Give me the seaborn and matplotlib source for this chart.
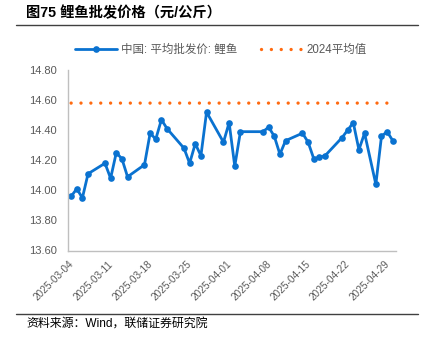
import matplotlib
matplotlib.use("Agg")
import matplotlib.pyplot as plt
import pandas as pd
import seaborn as sns
from matplotlib.lines import Line2D

# Trading days and carp wholesale price (yuan/kg)
trade_dates = [
    "2025-03-04", "2025-03-05", "2025-03-06", "2025-03-07",
    "2025-03-10", "2025-03-11", "2025-03-12", "2025-03-13", "2025-03-14",
    "2025-03-17", "2025-03-18", "2025-03-19", "2025-03-20", "2025-03-21",
    "2025-03-24", "2025-03-25", "2025-03-26", "2025-03-27", "2025-03-28",
    "2025-03-31", "2025-04-01", "2025-04-02", "2025-04-03",
    "2025-04-07", "2025-04-08", "2025-04-09", "2025-04-10", "2025-04-11",
    "2025-04-14", "2025-04-15", "2025-04-16", "2025-04-17", "2025-04-18",
    "2025-04-21", "2025-04-22", "2025-04-23", "2025-04-24", "2025-04-25",
    "2025-04-27", "2025-04-28", "2025-04-29", "2025-04-30",
]
carp_price = [
    13.96, 14.01, 13.95, 14.11,
    14.18, 14.08, 14.25, 14.21, 14.09,
    14.17, 14.38, 14.34, 14.47, 14.41,
    14.28, 14.18, 14.31, 14.23, 14.52,
    14.32, 14.45, 14.16, 14.39,
    14.39, 14.42, 14.36, 14.24, 14.33,
    14.38, 14.32, 14.21, 14.22, 14.23,
    14.35, 14.40, 14.45, 14.27, 14.38,
    14.04, 14.36, 14.39, 14.33,
]
avg_2024 = [
    14.58, 14.58, 14.58, 14.58,
    14.58, 14.58, 14.58, 14.58, 14.58,
    14.58, 14.58, 14.58, 14.58, 14.58,
    14.58, 14.58, 14.58, 14.58, 14.58,
    14.58, 14.58, 14.58, 14.58,
    14.58, 14.58, 14.58, 14.58, 14.58,
    14.58, 14.58, 14.58, 14.58, 14.58,
    14.58, 14.58, 14.58, 14.58, 14.58,
    14.58, 14.58, 14.58, 14.57,
]
tick_dates = [
    "2025-03-04", "2025-03-11", "2025-03-18", "2025-03-25", "2025-04-01",
    "2025-04-08", "2025-04-15", "2025-04-22", "2025-04-29",
]
y_ticks = [13.60, 13.80, 14.00, 14.20, 14.40, 14.60, 14.80]

series_label = "中国: 平均批发价: 鲤鱼"
avg_label = "2024平均值"
title = "图75 鲤鱼批发价格（元/公斤）"
source = "资料来源：Wind，联储证券研究院"

BLUE = "#0A72D0"
ORANGE = "#FF6A10"
GREY_TXT = "#595959"
SPINE = "#BFBFBF"

sns.set_style("white")
plt.rcParams["font.family"] = ["Liberation Sans", "Noto Sans CJK SC", "DejaVu Sans"]

df = pd.DataFrame({
    "date": pd.to_datetime(trade_dates) + pd.Timedelta(hours=12),
    "price": carp_price,
    "avg": avg_2024,
})

fig = plt.figure(figsize=(4.23, 3.39), dpi=100)
ax = fig.add_axes([68.3 / 423, 1 - 250.5 / 339, (395.6 - 68.3) / 423, (250.5 - 70) / 339])

sns.lineplot(data=df, x="date", y="avg", ax=ax, color=ORANGE, linewidth=2.4,
             linestyle=(0, (0.01, 2.95)), dash_capstyle="round", label=avg_label)
sns.lineplot(data=df, x="date", y="price", ax=ax, color=BLUE, linewidth=2.0,
             marker="o", markersize=4.8, markeredgewidth=0, label=series_label)

ax.set_xlim(pd.Timestamp("2025-03-04"), pd.Timestamp("2025-05-01"))
ax.set_ylim(13.60, 14.80)
ax.set_yticks(y_ticks)
ax.set_yticklabels([f"{v:.2f}" for v in y_ticks], fontsize=8, color=GREY_TXT)
ax.set_xticks(pd.to_datetime(tick_dates))
ax.set_xticklabels(tick_dates, rotation=45, ha="right", rotation_mode="anchor",
                   fontsize=7.2, color=GREY_TXT)
ax.set_xlabel("")
ax.set_ylabel("")

for side in ("top", "right"):
    ax.spines[side].set_visible(False)
for side in ("left", "bottom"):
    ax.spines[side].set_color(SPINE)
    ax.spines[side].set_linewidth(1.0)
ax.tick_params(axis="y", direction="out", length=3, width=0.8, color=SPINE, pad=5)
ax.tick_params(axis="x", direction="in", length=3, width=0.8, color=SPINE, pad=6)

# Legend above the plot, series first
handles, labels = ax.get_legend_handles_labels()
order = [labels.index(series_label), labels.index(avg_label)]
ax.legend([handles[i] for i in order], [labels[i] for i in order],
          ncol=2, loc="center", bbox_to_anchor=(221 / 423, 1 - 50 / 339),
          bbox_transform=fig.transFigure, frameon=False, fontsize=8.3,
          labelcolor=GREY_TXT, handlelength=3.6, handletextpad=0.4,
          columnspacing=2.0)

# Title, rules and source line
fig.text(26 / 423, 1 - 13 / 339, title, fontsize=10.3, fontweight="bold",
         ha="left", va="center", color="black")
fig.add_artist(Line2D([16 / 423, 418 / 423], [1 - 25 / 339, 1 - 25 / 339],
                      transform=fig.transFigure, color="#404040", linewidth=1.0))
fig.add_artist(Line2D([16 / 423, 418 / 423], [1 - 314 / 339, 1 - 314 / 339],
                      transform=fig.transFigure, color="#404040", linewidth=1.0))
fig.text(26 / 423, 1 - 324 / 339, source, fontsize=8.6, ha="left", va="center",
         color="black")

fig.savefig("out.png", dpi=100)
